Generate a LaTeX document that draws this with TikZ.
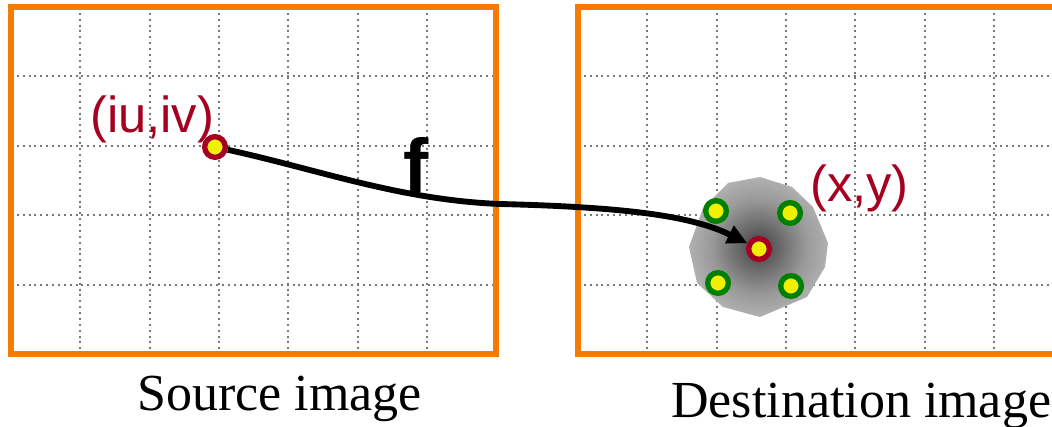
\documentclass[tikz,border=0pt]{standalone}
\usepackage{fontspec}
\setmainfont{Liberation Serif}
\newfontfamily\arialf{Liberation Sans}
\usetikzlibrary{arrows.meta}
\definecolor{boxorange}{RGB}{245,124,0}
\definecolor{ptred}{RGB}{165,0,33}
\definecolor{ptgreen}{RGB}{0,128,0}
\definecolor{ptyellow}{RGB}{240,240,0}
\definecolor{gridgray}{RGB}{120,120,120}
\pgfdeclareradialshading{blobshade}{\pgfpoint{0bp}{0bp}}{color(0bp)=(black!76); color(6bp)=(black!62); color(17bp)=(black!40); color(29bp)=(black!26); color(50bp)=(black!22)}
\begin{document}
\begin{tikzpicture}[x=0.75pt,y=-0.75pt,
  frame/.style={draw=boxorange,line width=3.8pt},
  gridline/.style={draw=gridgray,line width=1.5pt,dash pattern=on 1.5pt off 2.9pt},
  dot/.style={circle,draw=#1,fill=ptyellow,line width=4pt,minimum size=15.5pt,inner sep=0pt},
  conn/.style={line width=4.4pt,-{Triangle[length=15pt,width=14pt]}},
  coordlabel/.style={anchor=base west,inner sep=0pt,text=ptred,font=\arialf\fontsize{38}{40}\selectfont},
  caption/.style={anchor=base west,inner sep=0pt,font=\fontsize{39}{42}\selectfont}]
\useasboundingbox (0,0) rectangle (1052,427);
\clip (0,0) rectangle (1052,427);
% grids
\foreach \i in {1,...,6} {
  \draw[gridline] ({11+69.3*\i},7) -- ({11+69.3*\i},354);
  \draw[gridline] ({578+69.3*\i},7) -- ({578+69.3*\i},354);
}
\foreach \j in {1,...,4} {
  \draw[gridline] (11,{7+69.4*\j}) -- (496,{7+69.4*\j});
  \draw[gridline] (578,{7+69.4*\j}) -- (1063,{7+69.4*\j});
}
% frames
\draw[frame] (11,7) rectangle (496,354);
\draw[frame] (578,7) rectangle (1063,354);
% blob
\shade[shading=blobshade] (728,183) -- (760,177) -- (792,187) -- (813,207) -- (828,243) -- (825,267) -- (807,297) -- (760,317) -- (723,307) -- (697,283) -- (689,247) -- (703,208) -- cycle;
% points
\node[dot=ptgreen] (g1) at (716,211) {};
\node[dot=ptgreen] (g2) at (790,213) {};
\node[dot=ptgreen] (g3) at (718,283) {};
\node[dot=ptgreen] (g4) at (791,286) {};
\node[dot=ptred] (src) at (215,147) {};
\node[dot=ptred] (dst) at (759,249) {};
% labels
\node[coordlabel] (srclabel) at (90,133) {(iu,iv)};
\node[coordlabel] (dstlabel) at (810,202) {(x,y)};
\node[anchor=base west,inner sep=0pt,font=\arialf\bfseries\fontsize{57}{60}\selectfont] (flabel) at (403,193) {f};
\node[caption] (srccap) at (137,410) {Source image};
\node[caption] (dstcap) at (671,417) {Destination image};
% mapping arrow
\coordinate (mid) at (500,204);
\draw[conn] (src) .. controls (320,170) and (400,200) .. (mid) .. controls (620,207) and (690,215) .. (dst);
\end{tikzpicture}
\end{document}
